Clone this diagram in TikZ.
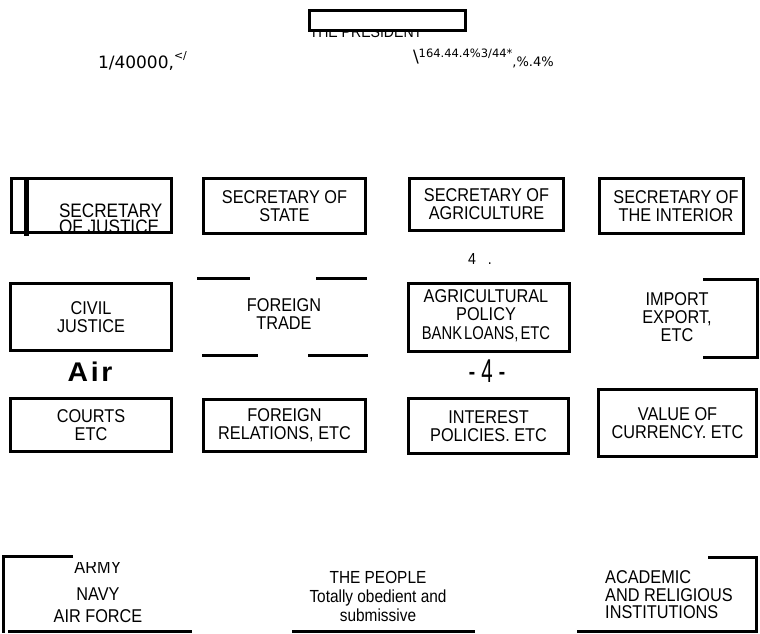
\documentclass[tikz,border=0pt]{standalone}
\usepackage{fontspec}
\setmainfont{Liberation Sans}[FakeStretch=0.88]
\newfontfamily\tightface{Liberation Sans}[FakeStretch=0.8, WordSpace=0.5]
\newfontfamily\spacedface{Liberation Sans}[LetterSpace=10, FakeStretch=1.05]
\newfontfamily\digitface{Liberation Sans}[LetterSpace=18, FakeStretch=0.62]
\newfontfamily\scanface{DejaVu Sans}
\tikzstyle{office}=[draw, line width=3pt, fill=white, inner sep=0, outer sep=0,
                    align=center, font=\fontsize{18.5}{18}\selectfont]
\tikzstyle{caption}=[inner sep=0, outer sep=0, align=center, font=\fontsize{18.5}{18}\selectfont]
\tikzstyle{rule}=[line width=3pt]
\tikzstyle{orgchart}=[x=1pt, y=-1pt,
                      % stray marks of the scanned page
                      scan/.style={inner sep=0, outer sep=0, font=\scanface\fontsize{17}{17}\selectfont}]

\begin{document}
\begin{tikzpicture}[orgchart]
    \useasboundingbox (0, 0) rectangle (760, 633);
    \node[caption, anchor=base, font=\fontsize{16}{16}\selectfont] (presname) at (366, 37) {THE PRESIDENT};
    \node[office, minimum width=156pt, minimum height=20pt] (pres) at (387.5, 20) {};
    \node[scan, anchor=base west] (mark1) at (98, 68) {1/40000,\raisebox{9pt}{\fontsize{11}{11}\selectfont</}};
    \node[scan, anchor=base west] (mark2) at (413, 62) {\textbackslash\raisebox{5pt}{\fontsize{11.5}{11.5}\selectfont 164.44.4\%3/44*}\lower4pt\hbox{\fontsize{13}{13}\selectfont,\%.4\%}};

    \node[office, minimum width=160pt, minimum height=54pt] (sj) at (91.5, 205.5) {};
    \node[office, minimum width=162pt, minimum height=55pt] (ss) at (284.5, 206) {SECRETARY OF\\STATE};
    \node[office, minimum width=154pt, minimum height=52pt] (sa) at (486.5, 204.5) {SECRETARY OF\\AGRICULTURE};
    \node[office, minimum width=144pt, minimum height=55pt] (si) at (671.5, 206) {};
    \draw[line width=5pt] (sj.north west) ++(15, 0) -- ++(0, 57);
    \node[caption, anchor=base west, font=\fontsize{19.5}{19}\selectfont] (sjtop) at (59, 217) {SECRETARY};
    \node[caption, anchor=base west, font=\fontsize{19.5}{19}\selectfont] (sjbot) at (59, 233) {OF JUSTICE};
    \node[caption] (sitext) at (676, 206.5) {SECRETARY OF\\THE INTERIOR};
    \node[caption, font=\fontsize{16}{16}\selectfont] (dot4) at (480, 259) {4\hspace{12pt}.};

    \node[office, minimum width=161pt, minimum height=67pt] (cj) at (91, 317) {CIVIL\\JUSTICE};
    \node[caption] (ft) at (284, 314) {FOREIGN\\TRADE};
    \node[office, minimum width=161pt, minimum height=68pt] (ap) at (489, 317.5) {};
    \node[caption] (aptext) at (486, 316) {AGRICULTURAL\\POLICY\\[1pt]{\tightface BANK LOANS, ETC}};
    \node[caption] (ie) at (677, 317.5) {IMPORT\\EXPORT,\\ETC};
    \draw[rule] (197, 278) -- (250, 278);
    \draw[rule] (316, 278) -- (367, 278);
    \draw[rule] (202, 355) -- (258, 355);
    \draw[rule] (308, 355) -- (368, 355);
    \draw[rule] (703, 279) -- (757, 279) -- (757, 357) -- (703, 357);

    \node[caption, font=\spacedface\bfseries\fontsize{27}{27}\selectfont] (air) at (90, 372) {Air};
    \node[caption, font=\digitface\fontsize{33}{33}\selectfont] (four) at (487, 371) {-4-};

    \node[office, minimum width=161pt, minimum height=53pt] (co) at (91, 425) {COURTS\\ETC};
    \node[office, minimum width=162pt, minimum height=52pt] (fr) at (284.5, 425.5) {FOREIGN\\RELATIONS, ETC};
    \node[office, minimum width=160pt, minimum height=55pt] (ip) at (488.5, 426) {INTEREST\\POLICIES. ETC};
    \node[office, minimum width=158pt, minimum height=67pt] (vc) at (677.5, 423) {VALUE OF\\CURRENCY. ETC};

    \node[caption, anchor=base] (army) at (98, 573) {ARMY};
    \fill[white] (55, 548) rectangle (145, 562);
    \node[caption, anchor=base, font=\fontsize{18.5}{22}\selectfont] (navy) at (98, 622) {NAVY\\AIR FORCE};
    \draw[rule] (73, 556) -- (3, 556) -- (3, 633);
    \draw[rule] (8, 631) -- (192, 631);
    \node[caption, font=\fontsize{17.5}{19}\selectfont] (people) at (378, 596) {THE PEOPLE\\Totally obedient and\\submissive};
    \draw[rule] (292, 631) -- (475, 631);
    \node[caption, align=left, font=\fontsize{18.5}{17.5}\selectfont] (inst) at (669, 595) {ACADEMIC\\AND RELIGIOUS\\INSTITUTIONS};
    \draw[rule] (708, 557) -- (756, 557) -- (756, 633);
    \draw[rule] (577, 631) -- (757, 631);
\end{tikzpicture}
\end{document}
